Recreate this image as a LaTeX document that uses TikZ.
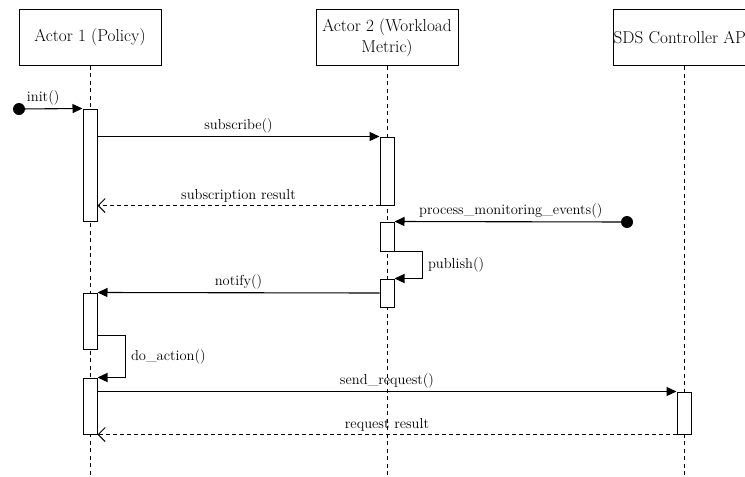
\documentclass[tikz,border=0pt]{standalone}
\usepackage{fontspec}
\usetikzlibrary{arrows.meta,calc}
\begin{document}
\begin{tikzpicture}[x=1pt,y=-1pt,
  actorfont/.style={font=\fontsize{17.2}{20.5}\selectfont},
  actor/.style={draw, line width=1pt, minimum width=142pt, minimum height=56pt,
    actorfont, align=center, inner sep=0pt},
  act/.style={draw, fill=white, line width=1pt, minimum width=14pt, inner sep=0pt},
  life/.style={line width=1pt, dash pattern=on 4pt off 3.5pt},
  msg/.style={line width=1.1pt, -{Triangle[length=10pt,width=9pt]}},
  ret/.style={line width=1pt, dash pattern=on 4pt off 3pt,
    -{Straight Barb[length=7pt,width=14pt,line width=1pt]}},
  lbl/.style={font=\fontsize{14.5}{16}\selectfont, inner sep=1pt},
  dot/.style={circle, fill=black, minimum size=12pt, inner sep=0pt}]

\useasboundingbox (0,0) rectangle (745,477);
\clip (0,0) rectangle (745,477);

% participants
\node[actor] (p1) at (90,37) {Actor 1 (Policy)};
\node[actor] (p2) at (387,37.5) {Actor 2 (Workload\\Metric)};
\node[actor] (p3) at (684,37.5) {};
\node[actorfont, inner sep=0pt, anchor=west] (p3t)
  at ([xshift=1pt]p3.west) {SDS Controller API};

% lifelines
\coordinate (e1) at (90,477);
\coordinate (e2) at (387,477);
\coordinate (e3) at (684,477);
\draw[life] (p1.south) -- (e1);
\draw[life] (p2.south) -- (e2);
\draw[life] (p3.south) -- (e3);

% activation bars
\node[act, minimum height=112pt] (b1) at (90,165) {};
\node[act, minimum height=68pt]  (b2) at (387,171) {};
\node[act, minimum height=29pt]  (b3) at (387,236.5) {};
\node[act, minimum height=28pt]  (b4) at (387,293) {};
\node[act, minimum height=56pt]  (b5) at (90,321) {};
\node[act, minimum height=56pt]  (b6) at (90,406) {};
\node[act, minimum height=42pt]  (b7) at (684,413) {};

% found messages
\node[dot] (d0) at (19,109) {};
\node[dot] (d1) at (627,222) {};

% messages
\draw[msg] (d0.center) -- node[lbl, above=2pt, pos=0.38] {init()} (b1.north west);
\draw[msg] (b1.east |- b2.north) -- node[lbl, above=2pt] {subscribe()} (b2.north west);
\draw[ret] (b2.south west) -- node[lbl, above=2pt] {subscription result} (b1.east |- b2.south);
\draw[msg] (d1.center) -- node[lbl, above=2pt] {process\_monitoring\_events()} (b3.north east);
\draw[msg] (b3.south east) -- ++(28,0) |- node[lbl, right=4pt, pos=0.25] {publish()} (b4.north east);
\draw[msg] (b4.west) -- node[lbl, above=2pt] {notify()} (b5.north east);
\draw[msg] ([yshift=14pt]b5.south east) -- ++(28,0) |- node[lbl, right=4pt, pos=0.25] {do\_action()} (b6.north east);
\draw[msg] (b6.east |- b7.north) -- node[lbl, above=2pt] {send\_request()} (b7.north west);
\draw[ret] (b7.south west) -- node[lbl, above=2pt] {request result} (b6.south east);
\end{tikzpicture}
\end{document}
